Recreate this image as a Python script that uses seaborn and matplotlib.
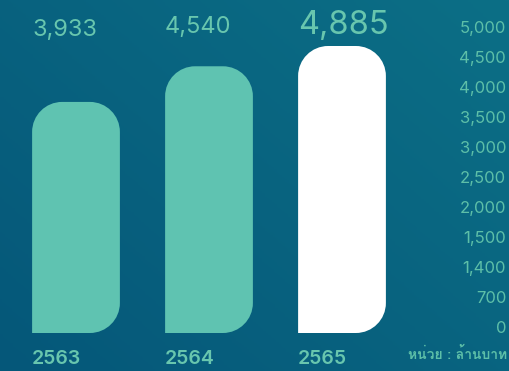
import numpy as np
import pandas as pd
import matplotlib
matplotlib.use("Agg")
import matplotlib.pyplot as plt
import seaborn as sns
import matplotlib.font_manager as fm
from matplotlib.path import Path
from matplotlib.patches import PathPatch
from matplotlib.ft2font import FT2Font
from matplotlib.colors import LinearSegmentedColormap

# ข้อมูล
years = ["2563", "2564", "2565"]
values = [3933, 4540, 4885]
value_labels = ["3,933", "4,540", "4,885"]
tick_labels = ["0", "700", "1,400", "1,500", "2,000", "2,500", "3,000",
               "3,500", "4,000", "4,500", "5,000"]
unit_text = "หน่วย : ล้านบาท"

# หา font ที่มีอักษรไทย
thai_font = None
for f in fm.fontManager.ttflist:
    try:
        if ord("ห") in FT2Font(f.fname).get_charmap():
            thai_font = f.name
            break
    except Exception:
        pass

sns.set_theme(style="white")
plt.rcParams["font.family"] = ["Inter", "DejaVu Sans"]

W, H = 509, 371
fig = plt.figure(figsize=(W / 100, H / 100), dpi=100)

# พื้นหลังไล่สี
bg = fig.add_axes([0, 0, 1, 1], zorder=0)
gx, gy = np.meshgrid(np.linspace(0, 1, 200), np.linspace(0, 1, 200))
grad = 0.55 * gx + 0.45 * (1 - gy)
cmap = LinearSegmentedColormap.from_list("bg", ["#055779", "#0c6f86"])
bg.imshow(grad, cmap=cmap, aspect="auto", extent=[0, 1, 0, 1])
bg.axis("off")

ax = fig.add_axes([0, 0, 1, 1], zorder=1)
ax.set_facecolor("none")
df = pd.DataFrame({"year": years, "value": values})
sns.barplot(data=df, x="year", y="value", hue="year",
            palette=["#5fc3b1", "#5fc3b1", "#ffffff"], width=0.66,
            legend=False, ax=ax, saturation=1)

# จัดตำแหน่ง
ax.set_xlim(-76 / 133, (W - 76) / 133)
ppy = 287 / 4885
ax.set_ylim(-(H - 333) / ppy, 333 / ppy)
ax.axis("off")

# แท่งมุมโค้ง
ppx = W / (ax.get_xlim()[1] - ax.get_xlim()[0])
ppy = H / (ax.get_ylim()[1] - ax.get_ylim()[0])
r = 30
rx, ry = r / ppx, r / ppy
k = 0.5523
for p in list(ax.patches):
    x0, y0 = p.get_x(), p.get_y()
    x1, y1 = x0 + p.get_width(), y0 + p.get_height()
    fc = p.get_facecolor()
    p.remove()
    verts = [
        (x0, y0), (x1 - rx, y0),
        (x1 - rx + k * rx, y0), (x1, y0 + ry - k * ry), (x1, y0 + ry),
        (x1, y1 - ry),
        (x1, y1 - ry + k * ry), (x1 - rx + k * rx, y1), (x1 - rx, y1),
        (x0 + rx, y1),
        (x0 + rx - k * rx, y1), (x0, y1 - ry + k * ry), (x0, y1 - ry),
        (x0, y0),
    ]
    codes = [Path.MOVETO, Path.LINETO,
             Path.CURVE4, Path.CURVE4, Path.CURVE4,
             Path.LINETO,
             Path.CURVE4, Path.CURVE4, Path.CURVE4,
             Path.LINETO,
             Path.CURVE4, Path.CURVE4, Path.CURVE4,
             Path.CLOSEPOLY]
    ax.add_patch(PathPatch(Path(verts, codes), facecolor=fc, edgecolor="none"))

# ตัวเลขบนแท่ง และปี
txt_col = "#68c6ae"
left = [i - 0.33 for i in range(len(years))]
sizes = [17, 17, 23.5]
ys = [30, 27, 25]
for i in range(len(years)):
    ax.text(left[i], 1 - ys[i] / H, value_labels[i],
            transform=ax.get_xaxis_transform(),
            fontsize=sizes[i], color=txt_col, ha="left", va="center",
            fontweight="normal")
    ax.text(left[i], 1 - 359 / H, years[i], transform=ax.get_xaxis_transform(),
            fontsize=14, color=txt_col, ha="left", va="center",
            fontweight="semibold")

# แกนขวา
ax2 = ax.twinx()
ax2.set_position([0, 0, 1, 1])
ax2.set_ylim(-(H - 327) / 30, 10 + 27 / 30)
ax2.set_yticks(range(len(tick_labels)))
ax2.set_yticklabels(tick_labels, color="#5dbfa8", fontsize=12)
ax2.tick_params(axis="y", right=True, length=0, pad=-2)
for lbl in ax2.get_yticklabels():
    lbl.set_ha("right")
for s in ax2.spines.values():
    s.set_visible(False)
ax2.set_xticks([])
ax2.set_facecolor("none")

fig.text(1 - 2 / W, 1 - 354 / H, unit_text, ha="right", va="center",
         fontsize=10, fontweight="bold", color="#5dbfa8",
         family=[thai_font or "DejaVu Sans", "DejaVu Sans"])

fig.savefig("out.png", dpi=100)
